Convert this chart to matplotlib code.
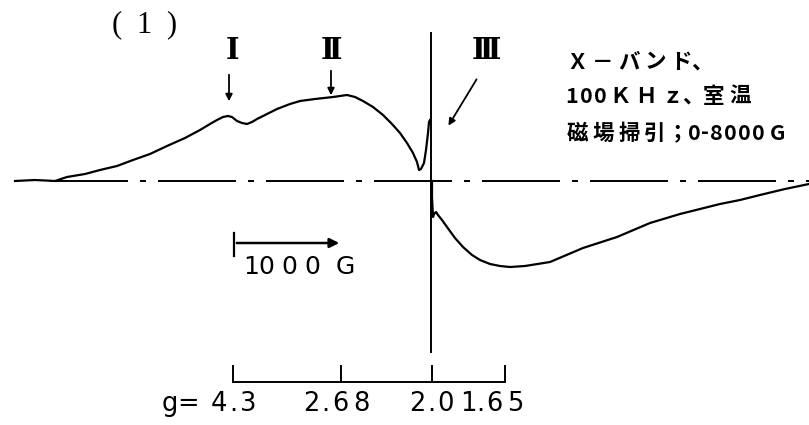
import unicodedata
import matplotlib.pyplot as plt

plt.rcParams['font.family'] = ['Noto Sans CJK JP', 'DejaVu Sans']

# spectrum trace (x = field position, y = signal, pixel-like units)
spec_x = [15, 35, 55, 67, 85, 100, 117, 133, 150, 167, 185, 200, 210, 217, 223, 228, 232, 237,
          242, 247, 252, 257, 267, 277, 290, 300, 315, 333, 347, 355, 363, 373, 383, 392,
          400, 407, 413, 417, 419, 421, 424, 426, 428, 429, 430]
spec_y = [181, 180, 181, 177, 174, 170, 166, 160, 154, 146, 138, 130, 124, 120, 117, 116, 117, 121,
          123, 124, 122, 119, 114, 109, 104, 101, 99, 97, 95, 97, 101, 107, 115, 124,
          133, 143, 153, 162, 170, 169, 163, 150, 133, 122, 120]
low_x = [432, 432, 433, 434, 436, 438, 442, 447, 455, 463, 472, 480, 490, 500, 510, 525, 550,
         583, 617, 650, 680, 700, 720, 740, 760, 785, 809]
low_y = [181, 197, 217, 214, 212, 215, 220, 227, 238, 247, 255, 260, 264, 266, 267, 266, 262,
         248, 237, 223, 214, 209, 204, 200, 195, 189, 184]

g_labels = ['4.3', '2.68', '2.0', '1.65']
g_pos = [233, 341, 432, 505]
cond = ['Ｘ－バンド、', '100ＫＨｚ、室温', '磁場掃引；0-8000G']
peaks = ['Ⅰ', 'Ⅱ', 'Ⅲ']

fig = plt.figure(figsize=(8.09, 4.25), dpi=100)
ax = fig.add_axes([0, 0, 1, 1])
ax.set_xlim(0, 809)
ax.set_ylim(425, 0)
ax.axis('off')


def spaced(x, y, s, adv, **kw):
    # typewriter style: each character on its own, x is the first char centre
    prev = None
    for ch in s:
        w = adv(ch)
        if prev is not None:
            x += (prev + w) / 2
        ax.text(x, y, ch, ha='center', va='center', **kw)
        prev = w


def adv_jp(ch):
    if ch == '、':
        return 16
    if ch == '；':
        return 19
    if ch == '-':
        return 8
    if ch == 'G':
        return 26
    if unicodedata.east_asian_width(ch) in 'WF':
        return 26
    return 14


def adv_num(ch):
    return {'.': 8, '1': 16, ' ': 12, '=': 16, 'g': 20}.get(ch, 21)


lw = 1.6
# dash-dot baseline
k = 0.72 / 1.4
ax.plot([50, 809], [181, 181], color='black', lw=1.4,
        ls=(0, (78 * k, 12 * k, 6 * k, 12 * k)))
ax.plot(spec_x, spec_y, color='black', lw=lw)
ax.plot(low_x, low_y, color='black', lw=lw)
# marker line at g = 2.0
ax.plot([431, 431], [33, 352], color='black', lw=1.4)

# peak labels
for x, s in zip([232, 331, 486], peaks):
    ax.text(x, 50, s, ha='center', va='center', fontsize=21, fontweight='bold',
            family=['DejaVu Serif', 'DejaVu Sans'])
spaced(117, 25, '(1)', lambda c: 27, fontsize=22, family=['Liberation Serif', 'DejaVu Serif'])

arrow = dict(arrowstyle='-|>', color='black', lw=1.3, mutation_scale=10)
ax.annotate('', xy=(229, 104), xytext=(229, 72), arrowprops=arrow)
ax.annotate('', xy=(331, 98), xytext=(331, 68), arrowprops=arrow)
ax.annotate('', xy=(447, 128), xytext=(478, 77), arrowprops=arrow)

# measurement conditions
for yy, line in zip([62, 96, 133], cond):
    first = 572 if line[0].isdigit() else 577
    spaced(first, yy, line, adv_jp, fontsize=15.5, fontweight='bold')

# 1000 G scale bar
ax.plot([234, 234], [233, 256], color='black', lw=1.6)
ax.annotate('', xy=(342, 243), xytext=(234, 243),
            arrowprops=dict(arrowstyle='-|>', color='black', lw=1.8, mutation_scale=14))
spaced(251, 267, '1000 G', lambda c: {'1': 8, ' ': 10}.get(c, 23), fontsize=18,
       family='DejaVu Sans')

# g-value scale
ax.plot([g_pos[0], g_pos[-1]], [382, 382], color='black', lw=1.4)
for p in g_pos:
    ax.plot([p, p], [382, 366], color='black', lw=1.4)
spaced(170, 404, 'g=', adv_num, fontsize=18.5, family='DejaVu Sans')
for x, s in zip([219, 311, 417, 468], g_labels):
    spaced(x, 404, s, adv_num, fontsize=18.5, family='DejaVu Sans')

fig.savefig('out.png', dpi=100)
